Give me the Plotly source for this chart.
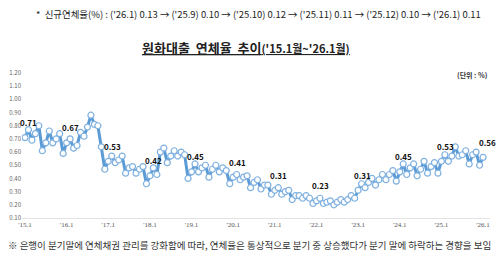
import plotly.graph_objects as go

# Monthly won-loan delinquency rate (%), Jan 2015 .. Jan 2026
rate_2015 = [0.71, 0.77, 0.69, 0.74, 0.80, 0.61, 0.67, 0.76, 0.67, 0.70, 0.74, 0.59]
rate_2016 = [0.67, 0.70, 0.63, 0.65, 0.75, 0.72, 0.79, 0.88, 0.81, 0.80, 0.64, 0.47]
rate_2017 = [0.53, 0.57, 0.52, 0.54, 0.57, 0.44, 0.48, 0.49, 0.44, 0.47, 0.49, 0.36]
rate_2018 = [0.42, 0.48, 0.43, 0.60, 0.63, 0.52, 0.57, 0.61, 0.57, 0.60, 0.58, 0.40]
rate_2019 = [0.45, 0.51, 0.45, 0.48, 0.50, 0.41, 0.47, 0.50, 0.45, 0.48, 0.46, 0.36]
rate_2020 = [0.41, 0.43, 0.39, 0.41, 0.42, 0.33, 0.37, 0.39, 0.32, 0.35, 0.35, 0.28]
rate_2021 = [0.31, 0.33, 0.28, 0.30, 0.31, 0.24, 0.27, 0.27, 0.25, 0.27, 0.25, 0.21]
rate_2022 = [0.23, 0.25, 0.21, 0.22, 0.23, 0.20, 0.22, 0.24, 0.22, 0.24, 0.27, 0.25]
rate_2023 = [0.31, 0.36, 0.33, 0.37, 0.40, 0.35, 0.39, 0.43, 0.39, 0.43, 0.46, 0.38]
rate_2024 = [0.45, 0.51, 0.43, 0.48, 0.51, 0.42, 0.47, 0.53, 0.44, 0.49, 0.52, 0.44]
rate_2025 = [0.53, 0.58, 0.53, 0.57, 0.64, 0.57, 0.58, 0.61, 0.51, 0.58, 0.60, 0.50]
rate_2026 = [0.56]

rates = (rate_2015 + rate_2016 + rate_2017 + rate_2018 + rate_2019 + rate_2020
         + rate_2021 + rate_2022 + rate_2023 + rate_2024 + rate_2025 + rate_2026)
month_index = list(range(len(rates)))

tick_labels = ["'15.1", "'16.1", "'17.1", "'18.1", "'19.1", "'20.1",
               "'21.1", "'22.1", "'23.1", "'24.1", "'25.1", "'26.1"]
tick_positions = [12 * i for i in range(len(tick_labels))]
y_ticks = [0.10, 0.20, 0.30, 0.40, 0.50, 0.60, 0.70, 0.80, 0.90, 1.00, 1.10, 1.20]

top_note = ("*  신규연체율(%) : ('26.1) 0.13 → ('25.9) 0.10 → ('25.10) 0.12 → "
            "('25.11) 0.11 → ('25.12) 0.10 → ('26.1) 0.11")
title_main = "원화대출  연체율  추이"
title_sub = "('15.1월~'26.1월)"
unit_text = "(단위 : %)"
bottom_note = ("※ 은행이 분기말에 연체채권 관리를 강화함에 따라, 연체율은 통상적으로 "
               "분기 중 상승했다가 분기 말에 하락하는 경향을 보임")

FONT = "Noto Sans CJK KR"
BLUE = "#5B9BD5"

fig = go.Figure()
fig.add_trace(go.Scatter(
    x=month_index, y=rates, mode="lines+markers",
    line=dict(color=BLUE, width=3),
    marker=dict(symbol="circle", size=6, color="white",
                line=dict(color="#7FB0E0", width=1.2)),
    hoverinfo="x+y", showlegend=False,
))

# January value labels
for pos in tick_positions:
    fig.add_annotation(
        x=pos, y=rates[pos], text="<b>%.2f</b>" % rates[pos],
        showarrow=False, yshift=15, xshift=4,
        font=dict(family=FONT, size=8, color="#111111"),
    )

fig.update_layout(
    width=500, height=257,
    margin=dict(l=22, r=10, t=73, b=39),
    paper_bgcolor="white", plot_bgcolor="white",
    font=dict(family=FONT, color="#333333"),
    xaxis=dict(
        range=[-0.86, 134.0], tickvals=tick_positions, ticktext=tick_labels,
        showgrid=False, zeroline=False, showline=True, linecolor="#E3E3E3",
        linewidth=1, ticks="", tickfont=dict(family="Liberation Serif", size=7, color="#555555"),
        fixedrange=True,
    ),
    yaxis=dict(
        range=[0.10, 1.20], tickvals=y_ticks,
        ticktext=["%.2f" % v for v in y_ticks],
        showgrid=False, zeroline=False, showline=False, ticks="",
        tickfont=dict(family=FONT, size=6, color="#666666"),
        fixedrange=True,
    ),
)

fig.add_annotation(
    xref="paper", yref="paper", x=(34 - 22) / 468, y=(257 - 14 - 39) / 145,
    xanchor="left", yanchor="middle", text=top_note, showarrow=False,
    font=dict(family=FONT, size=9.45, color="#222222"),
)
fig.add_annotation(
    xref="paper", yref="paper", x=(246 - 22) / 468, y=(257 - 47 - 39) / 145,
    xanchor="center", yanchor="middle",
    text="<b><u>" + title_main + "<span style='font-size:11px'>" + title_sub + "</span></u></b>",
    showarrow=False, font=dict(family=FONT, size=13, color="#222222"),
)
fig.add_annotation(
    xref="paper", yref="paper", x=1.0, y=(257 - 75 - 39) / 145,
    xanchor="right", yanchor="middle", text="<b>" + unit_text + "</b>", showarrow=False,
    font=dict(family=FONT, size=7, color="#333333"),
)
fig.add_annotation(
    xref="paper", yref="paper", x=(6 - 22) / 468, y=(257 - 245 - 39) / 145,
    xanchor="left", yanchor="middle", text=bottom_note, showarrow=False,
    font=dict(family=FONT, size=9.5, color="#333333"),
)

fig.write_html("out.html")
